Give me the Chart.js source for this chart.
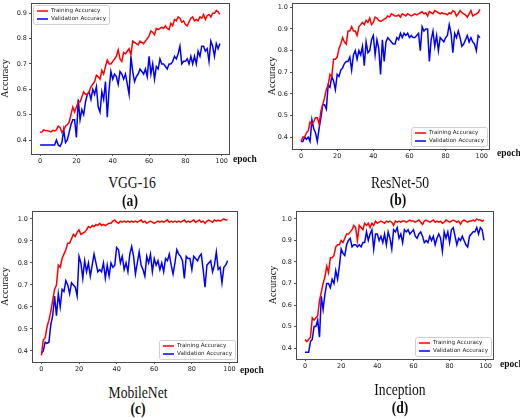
<!DOCTYPE html>
<html>
<head>
<meta charset="utf-8">
<script src="https://cdn.jsdelivr.net/npm/chart.js@4/dist/chart.umd.min.js"></script>
<style>
  body { margin: 0; background: #fff; }
  #fig { position: relative; width: 520px; height: 418px; overflow: hidden; background: #fff; }
  canvas { position: absolute; }
  .cap, .lbl { position: absolute; font-family: "Liberation Serif", serif; color: #111; white-space: nowrap; line-height: 1; }
  .cap { width: 200px; text-align: center; font-size: 17px; transform: scaleX(0.8); }
  .cap.b { font-weight: bold; }
  .lbl { font-size: 9.5px; font-weight: bold; }
</style>
</head>
<body>
<div id="fig">
  <canvas id="cA"></canvas>
  <canvas id="cB"></canvas>
  <canvas id="cC"></canvas>
  <canvas id="cD"></canvas>

  <div class="lbl" style="left:233px; top:155px;">epoch</div>
  <div class="lbl" style="left:497px; top:149px;">epoch</div>
  <div class="lbl" style="left:240px; top:366px;">epoch</div>
  <div class="lbl" style="left:500px; top:360px;">epoch</div>

  <div class="cap" style="left:32px; top:174px;">VGG-16</div>
  <div class="cap b" style="left:30px; top:192px;">(a)</div>
  <div class="cap" style="left:300px; top:174px;">ResNet-50</div>
  <div class="cap b" style="left:298px; top:191px;">(b)</div>
  <div class="cap" style="left:38px; top:384px;">MobileNet</div>
  <div class="cap b" style="left:38px; top:400px;">(c)</div>
  <div class="cap" style="left:300px; top:381px;">Inception</div>
  <div class="cap b" style="left:300px; top:399px;">(d)</div>
</div>

<script>
// epochs 0..99
const epochs = Array.from({ length: 100 }, (_, i) => i);
const xTicks = [0, 20, 40, 60, 80, 100];
const yTicksA = [0.4, 0.5, 0.6, 0.7, 0.8, 0.9];
const yTicksB = [0.4, 0.5, 0.6, 0.7, 0.8, 0.9, 1.0];

// (a) VGG-16
const vggTrain = [
  0.43,0.432,0.44,0.438,0.437,0.435,0.432,0.438,0.436,0.44,
  0.455,0.45,0.43,0.44,0.455,0.46,0.47,0.5,0.53,0.51,
  0.53,0.55,0.55,0.57,0.59,0.58,0.58,0.59,0.61,0.62,
  0.63,0.655,0.65,0.64,0.675,0.66,0.69,0.715,0.70,0.70,
  0.71,0.72,0.73,0.755,0.72,0.71,0.745,0.74,0.75,0.76,
  0.735,0.79,0.785,0.78,0.775,0.79,0.785,0.78,0.79,0.80,
  0.81,0.83,0.825,0.815,0.84,0.835,0.84,0.845,0.84,0.85,
  0.84,0.835,0.86,0.85,0.875,0.87,0.885,0.88,0.865,0.87,
  0.855,0.85,0.865,0.88,0.885,0.87,0.875,0.87,0.885,0.88,
  0.895,0.875,0.89,0.895,0.885,0.9,0.9,0.91,0.905,0.895
];
const vggVal = [
  0.38,0.38,0.38,0.38,0.38,0.38,0.38,0.38,0.38,0.40,
  0.38,0.375,0.39,0.44,0.39,0.40,0.43,0.46,0.48,0.48,
  0.41,0.56,0.48,0.52,0.50,0.55,0.58,0.59,0.56,0.60,
  0.58,0.61,0.53,0.51,0.59,0.56,0.63,0.49,0.60,0.67,
  0.64,0.66,0.65,0.62,0.67,0.66,0.64,0.66,0.62,0.58,
  0.73,0.67,0.63,0.65,0.66,0.68,0.67,0.66,0.68,0.65,
  0.73,0.66,0.70,0.64,0.69,0.68,0.72,0.70,0.70,0.69,
  0.68,0.70,0.70,0.71,0.73,0.72,0.74,0.77,0.70,0.71,
  0.71,0.72,0.70,0.73,0.70,0.73,0.70,0.75,0.73,0.77,
  0.77,0.75,0.76,0.71,0.79,0.77,0.73,0.78,0.76,0.78
];

// (b) ResNet-50
const resTrain = [
  0.38,0.40,0.40,0.42,0.43,0.47,0.46,0.47,0.49,0.49,
  0.46,0.52,0.55,0.58,0.62,0.64,0.69,0.68,0.76,0.76,
  0.77,0.81,0.83,0.86,0.84,0.83,0.89,0.89,0.91,0.89,
  0.89,0.87,0.91,0.92,0.93,0.92,0.94,0.93,0.95,0.92,
  0.93,0.955,0.95,0.94,0.935,0.94,0.945,0.95,0.96,0.955,
  0.97,0.965,0.96,0.96,0.965,0.955,0.97,0.965,0.96,0.97,
  0.965,0.96,0.965,0.97,0.965,0.97,0.975,0.98,0.97,0.975,
  0.96,0.98,0.975,0.97,0.985,0.98,0.975,0.97,0.975,0.97,
  0.97,0.965,0.975,0.97,0.985,0.98,0.96,0.97,0.985,0.975,
  0.97,0.965,0.955,0.97,0.985,0.96,0.965,0.97,0.975,0.99
];
const resVal = [
  0.38,0.38,0.40,0.39,0.40,0.38,0.48,0.44,0.42,0.38,
  0.44,0.49,0.55,0.55,0.53,0.64,0.63,0.68,0.66,0.62,
  0.69,0.68,0.71,0.72,0.74,0.75,0.75,0.77,0.71,0.78,
  0.80,0.76,0.80,0.78,0.82,0.73,0.84,0.79,0.80,0.85,
  0.87,0.78,0.85,0.81,0.69,0.85,0.75,0.84,0.86,0.85,
  0.84,0.83,0.83,0.86,0.85,0.88,0.86,0.88,0.87,0.88,
  0.86,0.87,0.86,0.86,0.87,0.88,0.80,0.91,0.89,0.90,
  0.90,0.75,0.85,0.89,0.82,0.87,0.80,0.86,0.85,0.84,
  0.86,0.87,0.92,0.88,0.79,0.88,0.86,0.89,0.86,0.82,
  0.83,0.85,0.87,0.84,0.86,0.84,0.83,0.80,0.87,0.86
];

// (c) MobileNet
const mobTrain = [
  0.38,0.45,0.46,0.51,0.54,0.58,0.63,0.68,0.70,0.79,
  0.78,0.82,0.84,0.86,0.89,0.89,0.91,0.93,0.92,0.94,
  0.95,0.93,0.935,0.94,0.95,0.965,0.96,0.97,0.965,0.975,
  0.97,0.98,0.97,0.975,0.97,0.975,0.98,0.98,0.99,0.995,
  0.985,0.98,0.99,0.985,0.99,0.985,0.99,0.985,0.99,0.985,
  0.99,0.985,0.99,0.995,0.985,0.99,0.98,0.985,0.99,0.985,
  0.98,0.985,0.99,0.985,0.99,0.985,0.99,0.995,0.985,0.99,
  0.985,0.99,0.985,0.99,0.985,0.99,0.995,0.985,0.99,0.985,
  0.99,0.995,0.985,0.99,0.995,0.985,0.99,0.98,0.99,0.995,
  0.99,0.985,0.995,0.99,0.995,0.99,0.995,1.0,0.995,0.995
];
const mobVal = [
  0.39,0.40,0.44,0.435,0.44,0.52,0.56,0.65,0.56,0.66,
  0.60,0.68,0.67,0.72,0.70,0.66,0.71,0.70,0.69,0.65,
  0.83,0.80,0.73,0.81,0.76,0.80,0.74,0.79,0.84,0.80,
  0.76,0.77,0.76,0.80,0.73,0.79,0.74,0.80,0.78,0.79,
  0.87,0.86,0.80,0.83,0.77,0.80,0.76,0.84,0.875,0.83,
  0.75,0.80,0.85,0.79,0.77,0.74,0.83,0.80,0.84,0.76,
  0.82,0.79,0.81,0.77,0.80,0.76,0.82,0.81,0.84,0.79,
  0.75,0.80,0.86,0.84,0.83,0.81,0.73,0.83,0.82,0.82,
  0.77,0.83,0.82,0.81,0.83,0.84,0.77,0.69,0.79,0.80,
  0.81,0.76,0.79,0.85,0.77,0.78,0.71,0.78,0.79,0.81
];

// (d) Inception
const incTrain = [
  0.44,0.43,0.44,0.45,0.54,0.53,0.54,0.55,0.62,0.66,
  0.70,0.73,0.78,0.75,0.82,0.82,0.83,0.87,0.88,0.88,
  0.90,0.89,0.91,0.93,0.93,0.94,0.95,0.97,0.96,0.90,
  0.97,0.96,0.95,0.98,0.97,0.98,0.96,0.98,0.97,0.99,
  0.98,0.985,0.99,0.985,0.98,0.99,0.985,0.99,0.985,0.97,
  0.99,0.985,0.99,0.985,0.99,0.99,0.985,0.99,0.995,0.99,
  0.99,0.985,0.99,0.995,0.985,0.975,0.99,0.995,0.99,0.985,
  0.99,0.995,0.985,0.99,0.985,0.99,0.98,0.985,0.995,0.99,
  0.985,0.99,0.995,0.99,0.985,0.99,0.975,0.99,0.995,0.99,
  0.985,0.99,0.99,0.995,0.99,1.0,0.995,0.995,0.99,0.995
];
const incVal = [
  0.38,0.38,0.38,0.43,0.44,0.50,0.50,0.53,0.45,0.64,
  0.58,0.65,0.70,0.70,0.68,0.72,0.70,0.76,0.72,0.78,
  0.86,0.84,0.83,0.88,0.90,0.91,0.87,0.88,0.88,0.87,
  0.88,0.87,0.89,0.89,0.94,0.90,0.93,0.95,0.86,0.93,
  0.93,0.90,0.92,0.89,0.93,0.88,0.94,0.91,0.86,0.95,
  0.94,0.96,0.91,0.93,0.89,0.95,0.94,0.95,0.93,0.94,
  0.95,0.92,0.91,0.93,0.94,0.92,0.89,0.90,0.89,0.92,
  0.90,0.92,0.88,0.91,0.93,0.91,0.85,0.94,0.91,0.94,
  0.89,0.95,0.96,0.92,0.88,0.91,0.90,0.92,0.90,0.88,
  0.87,0.92,0.93,0.94,0.94,0.96,0.93,0.96,0.95,0.90
];

const seriesLabels = ['Training Accuracy', 'Validation Accuracy'];
const seriesColors = ['#ff0000', '#0000ff'];

// full box around the plot, like matplotlib spines
const frame = {
  id: 'frame',
  afterDatasetsDraw(chart) {
    const { ctx, chartArea: a } = chart;
    ctx.save();
    ctx.strokeStyle = '#4a4a4a';
    ctx.lineWidth = 1;
    ctx.strokeRect(Math.round(a.left) + 0.5, Math.round(a.top) + 0.5,
                   Math.round(a.right - a.left), Math.round(a.bottom - a.top));
    ctx.restore();
  }
};

// legend inside the plot area
const boxLegend = {
  id: 'boxLegend',
  afterDraw(chart, args, opts) {
    const { ctx, chartArea: a } = chart;
    const w = 76, h = 19;
    const x = opts.corner === 'tl' ? Math.round(a.left) + 2 : Math.round(a.right) - w - 2;
    const y = opts.corner === 'tl' ? Math.round(a.top) + 2 : Math.round(a.bottom) - h - 3;
    ctx.save();
    ctx.fillStyle = 'rgba(255,255,255,0.85)';
    ctx.strokeStyle = '#cfcfcf';
    ctx.lineWidth = 1;
    ctx.beginPath();
    ctx.roundRect(x + 0.5, y + 0.5, w, h, 2);
    ctx.fill();
    ctx.stroke();
    ctx.font = '5.6px "DejaVu Sans"';
    ctx.textBaseline = 'middle';
    chart.data.datasets.forEach((ds, i) => {
      const ly = y + 6 + i * 8;
      ctx.strokeStyle = ds.borderColor;
      ctx.lineWidth = 1.5;
      ctx.beginPath();
      ctx.moveTo(x + 4, ly);
      ctx.lineTo(x + 15, ly);
      ctx.stroke();
      ctx.fillStyle = '#222';
      ctx.fillText(ds.label, x + 18, ly);
    });
    ctx.restore();
  }
};

function dibujarPanel(id, box, yW, yMin, yMax, yTicks, train, val, corner) {
  const padTop = 10, padRight = 12, xH = 15;
  const cv = document.getElementById(id);
  const w = (box.r - box.l) + yW + padRight;
  const h = (box.b - box.t) + padTop + xH;
  cv.width = w;
  cv.height = h;
  cv.style.left = (box.l - yW) + 'px';
  cv.style.top = (box.t - padTop) + 'px';

  const tickFont = { family: 'DejaVu Sans', size: 6.5 };
  return new Chart(cv.getContext('2d'), {
    type: 'line',
    data: {
      datasets: [train, val].map((arr, k) => ({
        label: seriesLabels[k],
        data: arr.map((v, i) => ({ x: epochs[i], y: v })),
        borderColor: seriesColors[k],
        borderWidth: 1.5,
        pointRadius: 0,
        tension: 0,
        fill: false
      }))
    },
    options: {
      responsive: false,
      animation: false,
      devicePixelRatio: 1,
      layout: { padding: { top: padTop, right: padRight, left: 0, bottom: 0 } },
      plugins: {
        legend: { display: false },
        tooltip: { enabled: false },
        boxLegend: { corner: corner }
      },
      scales: {
        x: {
          type: 'linear',
          min: -5,
          max: 104,
          afterBuildTicks: ax => { ax.ticks = xTicks.map(v => ({ value: v })); },
          afterFit: ax => { ax.height = xH; },
          grid: { drawOnChartArea: false, drawTicks: true, tickLength: 2, color: '#555' },
          border: { display: false },
          ticks: { font: tickFont, color: '#222', padding: 1, maxRotation: 0 }
        },
        y: {
          min: yMin,
          max: yMax,
          afterBuildTicks: ax => { ax.ticks = yTicks.map(v => ({ value: v })); },
          afterFit: ax => { ax.width = yW; },
          grid: { drawOnChartArea: false, drawTicks: true, tickLength: 2, color: '#555' },
          border: { display: false },
          ticks: { font: tickFont, color: '#222', padding: 2, callback: v => v.toFixed(1) },
          title: {
            display: true,
            text: 'Accuracy',
            font: { family: 'Liberation Serif', size: 10 },
            color: '#111',
            padding: 0
          }
        }
      }
    },
    plugins: [frame, boxLegend]
  });
}

dibujarPanel('cA', { l: 31, t: 3, r: 229, b: 154 }, 32, 0.345, 0.94, yTicksA, vggTrain, vggVal, 'tl');
dibujarPanel('cB', { l: 292, t: 3, r: 489, b: 149 }, 26, 0.345, 1.02, yTicksB, resTrain, resVal, 'br');
dibujarPanel('cC', { l: 32, t: 211, r: 237, b: 362 }, 33, 0.35, 1.036, yTicksB, mobTrain, mobVal, 'br');
dibujarPanel('cD', { l: 296, t: 211, r: 493, b: 359 }, 29, 0.349, 1.037, yTicksB, incTrain, incVal, 'br');
</script>
</body>
</html>
